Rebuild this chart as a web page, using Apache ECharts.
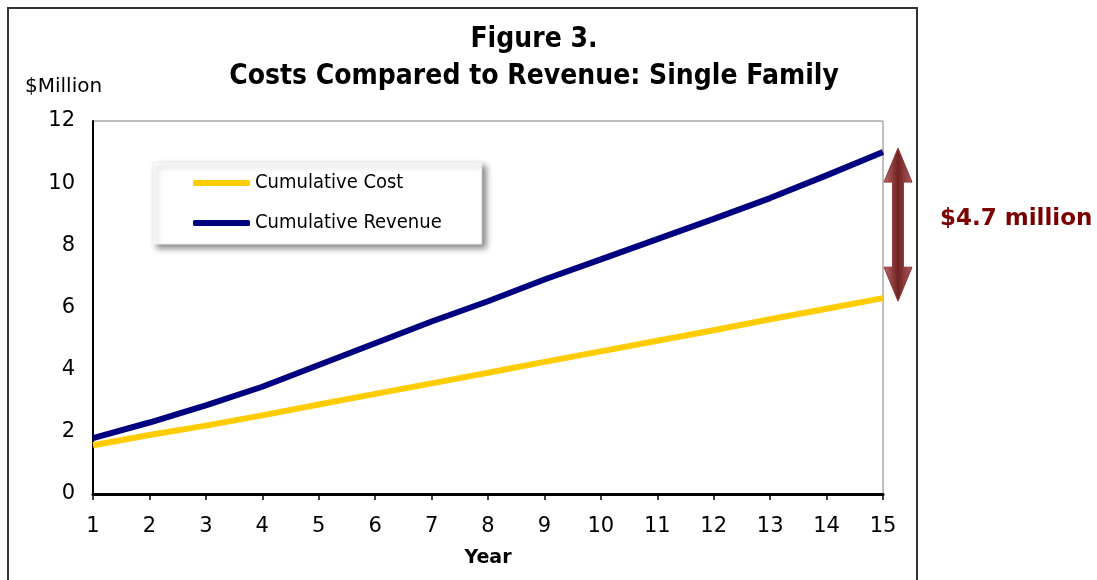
<!DOCTYPE html>
<html>
<head>
<meta charset="utf-8">
<script src="https://cdn.jsdelivr.net/npm/echarts@6/dist/echarts.min.js"></script>
<style>
html,body{margin:0;padding:0;background:#fff;}
#chart{width:1097px;height:580px;}
</style>
</head>
<body>
<div id="chart"></div>
<script>
const years = ['1','2','3','4','5','6','7','8','9','10','11','12','13','14','15'];
const cumulativeCost = [1.57, 1.9, 2.2, 2.53, 2.88, 3.22, 3.56, 3.9, 4.25, 4.59, 4.93, 5.27, 5.62, 5.96, 6.3];
const cumulativeRevenue = [1.8, 2.3, 2.85, 3.45, 4.15, 4.85, 5.55, 6.2, 6.9, 7.55, 8.2, 8.85, 9.52, 10.25, 11.0];
const titleLine1 = 'Figure 3.';
const titleLine2 = 'Costs Compared to Revenue: Single Family';
const yAxisTitle = '$Million';
const xAxisTitle = 'Year';
const seriesNames = ['Cumulative Cost', 'Cumulative Revenue'];

const chart = echarts.init(document.getElementById('chart'), null, {renderer: 'canvas'});
const GRID = {left: 93, right: 214, top: 121, bottom: 86};
const font = 'DejaVu Sans';

chart.setOption({
  animation: false,
  backgroundColor: '#fff',
  title: [
    {text: titleLine1, left: 529, top: 21, textAlign: 'center',
     textStyle: {fontFamily: 'DejaVu Sans Condensed', fontWeight: 'bold', fontSize: 28, color: '#000'}},
    {text: titleLine2, left: 529, top: 58, textAlign: 'center',
     textStyle: {fontFamily: 'DejaVu Sans Condensed', fontWeight: 'bold', fontSize: 28, color: '#000'}}
  ],
  legend: {
    orient: 'vertical',
    left: 153, top: 162,
    padding: [11, 40, 11, 40],
    itemGap: 20,
    itemWidth: 57, itemHeight: 6,
    icon: 'roundRect',
    backgroundColor: '#fff',
    borderColor: '#ececec', borderWidth: 1,
    shadowColor: 'rgba(0,0,0,0.45)', shadowBlur: 6, shadowOffsetX: 4, shadowOffsetY: 4,
    textStyle: {fontFamily: 'DejaVu Sans Condensed', fontSize: 20, color: '#000'},
    data: seriesNames
  },
  grid: Object.assign({show: true, borderColor: '#808080', borderWidth: 1, backgroundColor: '#fff'}, GRID),
  xAxis: {
    type: 'category',
    data: years,
    boundaryGap: false,
    name: xAxisTitle,
    nameLocation: 'middle',
    nameGap: 55,
    nameTextStyle: {fontFamily: font, fontWeight: 'bold', fontSize: 19, color: '#000'},
    axisLine: {lineStyle: {color: '#000', width: 3}},
    axisTick: {show: true, length: 6, lineStyle: {color: '#000', width: 1.5}},
    axisLabel: {fontFamily: font, fontSize: 21, color: '#000', margin: 22},
    splitLine: {show: false}
  },
  yAxis: {
    type: 'value',
    min: 0, max: 12, interval: 2,
    axisLine: {show: true, lineStyle: {color: '#000', width: 2}},
    axisTick: {show: false},
    axisLabel: {fontFamily: font, fontSize: 21, color: '#000', margin: 18},
    splitLine: {show: false}
  },
  series: [
    {name: seriesNames[0], type: 'line', data: cumulativeCost, showSymbol: false, symbol: 'none',
     lineStyle: {color: '#ffcc00', width: 6}, itemStyle: {color: '#ffcc00'}, z: 3},
    {name: seriesNames[1], type: 'line', data: cumulativeRevenue, showSymbol: false, symbol: 'none',
     lineStyle: {color: '#000080', width: 6}, itemStyle: {color: '#000080'}, z: 4}
  ]
});

// annotations tied to data
const last = years.length - 1;
const pTop = chart.convertToPixel({gridIndex: 0}, [last, cumulativeRevenue[last]]);
const pBot = chart.convertToPixel({gridIndex: 0}, [last, cumulativeCost[last]]);
const cx = pTop[0] + 15;
const tTop = pTop[1] - 4;
const tBot = pBot[1] + 3;
const hw = 14, sw = 5.5, hh = 34;
const arrowPts = [
  [cx, tTop], [cx + hw, tTop + hh], [cx + sw, tTop + hh], [cx + sw, tBot - hh],
  [cx + hw, tBot - hh], [cx, tBot], [cx - hw, tBot - hh], [cx - sw, tBot - hh],
  [cx - sw, tTop + hh], [cx - hw, tTop + hh]
];
const gap = (cumulativeRevenue[last] - cumulativeCost[last]).toFixed(1);

chart.setOption({
  graphic: [
    {type: 'rect', shape: {x: 8, y: 8, width: 909, height: 620}, silent: true,
     style: {fill: 'none', stroke: '#333', lineWidth: 2}, z: -10},
    {type: 'polygon', shape: {points: arrowPts}, silent: true,
     style: {
       fill: new echarts.graphic.LinearGradient(0, 0, 1, 0, [
         {offset: 0, color: '#c46a6a'}, {offset: 0.5, color: '#6e2222'}, {offset: 1, color: '#b85c5c'}
       ]),
       stroke: '#8a3a3a', lineWidth: 1
     }, z: 10},
    {type: 'text', left: 940, top: 208, silent: true,
     style: {text: '$' + gap + ' million', fontFamily: font, fontWeight: 'bold', fontSize: 23, fill: '#7b0000'}},
    {type: 'text', left: 25, top: 77, silent: true,
     style: {text: yAxisTitle, fontFamily: font, fontSize: 20, fill: '#000'}}
  ]
});
</script>
</body>
</html>
